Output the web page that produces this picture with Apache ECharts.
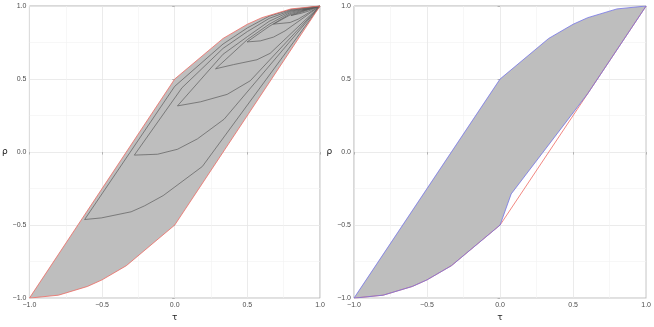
<!DOCTYPE html>
<html>
<head>
<meta charset="utf-8">
<script src="https://cdn.jsdelivr.net/npm/echarts@6/dist/echarts.min.js"></script>
<style>
  html, body { margin: 0; padding: 0; background: #fff; }
  #chart { width: 654px; height: 327px; }
</style>
</head>
<body>
<div id="chart"></div>
<script>
// outer attainable region (tau, rho)
const upperBound = [[-1, -1], [0, 0.5], [0.333, 0.778], [0.5, 0.875], [0.6, 0.92], [0.8, 0.98], [1, 1]]
const lowerBound = [[-1, -1], [-0.8, -0.98], [-0.6, -0.92], [-0.5, -0.875], [-0.333, -0.778], [0, -0.5], [1, 1]]
// right panel: narrower lower edge
const lowerInner = [[-1, -1], [-0.8, -0.98], [-0.6, -0.92], [-0.5, -0.875], [-0.333, -0.778], [0, -0.5], [0.076, -0.287], [0.6, 0.4], [1, 1]]

// nested leaves in the left panel: left edge (from apex down), arc, back to apex
const leafLeft = [
  [[1, 1], [0.8, 0.976], [0.65, 0.93], [0.5, 0.85], [0.333, 0.74], [0, 0.45], [-0.62, -0.462]],
  [[1, 1], [0.8, 0.97], [0.65, 0.915], [0.5, 0.825], [0.333, 0.71], [0.05, 0.44], [-0.278, -0.021]],
  [[1, 1], [0.8, 0.965], [0.65, 0.895], [0.5, 0.79], [0.333, 0.67], [0.019, 0.316]],
  [[1, 1], [0.8, 0.958], [0.65, 0.875], [0.5, 0.77], [0.281, 0.57]],
  [[1, 1], [0.8, 0.95], [0.65, 0.86], [0.498, 0.754]],
  [[1, 1], [0.8, 0.942], [0.68, 0.876]],
  [[1, 1], [0.8, 0.935]],
  [[1, 1], [0.88, 0.972]]
]
const leafArc = [
  [[-0.505, -0.451], [-0.3, -0.409], [-0.209, -0.369], [-0.079, -0.298], [0.19, -0.099]],
  [[-0.118, -0.015], [0.019, 0.019], [0.156, 0.09], [0.34, 0.225]],
  [[0.178, 0.344], [0.361, 0.395], [0.52, 0.488]],
  [[0.406, 0.599], [0.566, 0.632], [0.657, 0.676]],
  [[0.589, 0.761], [0.68, 0.787], [0.76, 0.83]],
  [[0.794, 0.887], [0.85, 0.91]],
  [[0.87, 0.95], [0.92, 0.965]],
  [[0.94, 0.982]]
]

const tickFmt = v => v.toFixed(1).replace('-', '\u2212')
const labelColor = '#4d4d4d'

function makeAxis(idx, isX) {
  return {
    type: 'value', gridIndex: idx, min: -1, max: 1, interval: 0.5,
    name: isX ? 'τ' : 'ρ', nameLocation: 'middle', nameGap: isX ? 11 : 16, nameRotate: 0,
    nameTextStyle: { fontSize: 9, color: '#222', fontFamily: 'DejaVu Sans' },
    axisLine: { show: false },
    axisTick: { show: true, length: 2.5, lineStyle: { color: '#b3b3b3' } },
    axisLabel: { fontSize: 7, color: labelColor, margin: 3, formatter: tickFmt, fontFamily: 'Liberation Sans' },
    splitLine: { lineStyle: { color: '#e6e6e6', width: 0.8 } },
    minorTick: { show: true, splitNumber: 2, length: 0 },
    minorSplitLine: { show: true, lineStyle: { color: '#f1f1f1', width: 0.6 } }
  }
}

function polygon(idx, pts, fill) {
  return {
    type: 'custom', xAxisIndex: idx, yAxisIndex: idx, silent: true,
    data: pts, encode: { x: 0, y: 1 },
    renderItem: (params, api) => {
      if (params.dataIndex !== 0) return null
      return {
        type: 'polygon',
        shape: { points: pts.map(p => api.coord(p)) },
        style: { fill: fill, stroke: null }
      }
    }
  }
}
function line(idx, pts, color, width) {
  return {
    type: 'line', xAxisIndex: idx, yAxisIndex: idx, silent: true,
    data: pts, showSymbol: false, symbol: 'none', animation: false,
    lineStyle: { color: color, width: width }
  }
}

const series = []
// left panel
series.push(polygon(0, upperBound.concat(lowerBound.slice().reverse()), '#bebebe'))
leafLeft.forEach((l, i) => {
  series.push(line(0, l.concat(leafArc[i], [[1, 1]]), '#5c5c5c', 0.7))
})
series.push(line(0, upperBound, '#ee6a62', 0.8))
series.push(line(0, lowerBound, '#ee6a62', 0.8))
// right panel
series.push(polygon(1, upperBound.concat(lowerInner.slice().reverse()), '#bebebe'))
series.push(line(1, lowerBound, '#ee6a62', 0.8))
series.push(line(1, upperBound, '#7474e6', 0.8))
series.push(line(1, lowerInner, '#7474e6', 0.8))

const chart = echarts.init(document.getElementById('chart'), null, { renderer: 'canvas' })
chart.setOption({
  animation: false,
  backgroundColor: '#ffffff',
  grid: [
    { left: 28, top: 6, width: 292, height: 301, show: true, borderColor: '#b3b3b3', borderWidth: 1 },
    { left: 354, top: 6, width: 293, height: 301, show: true, borderColor: '#b3b3b3', borderWidth: 1 }
  ],
  xAxis: [makeAxis(0, true), makeAxis(1, true)],
  yAxis: [makeAxis(0, false), makeAxis(1, false)],
  series: series
})
</script>
</body>
</html>
